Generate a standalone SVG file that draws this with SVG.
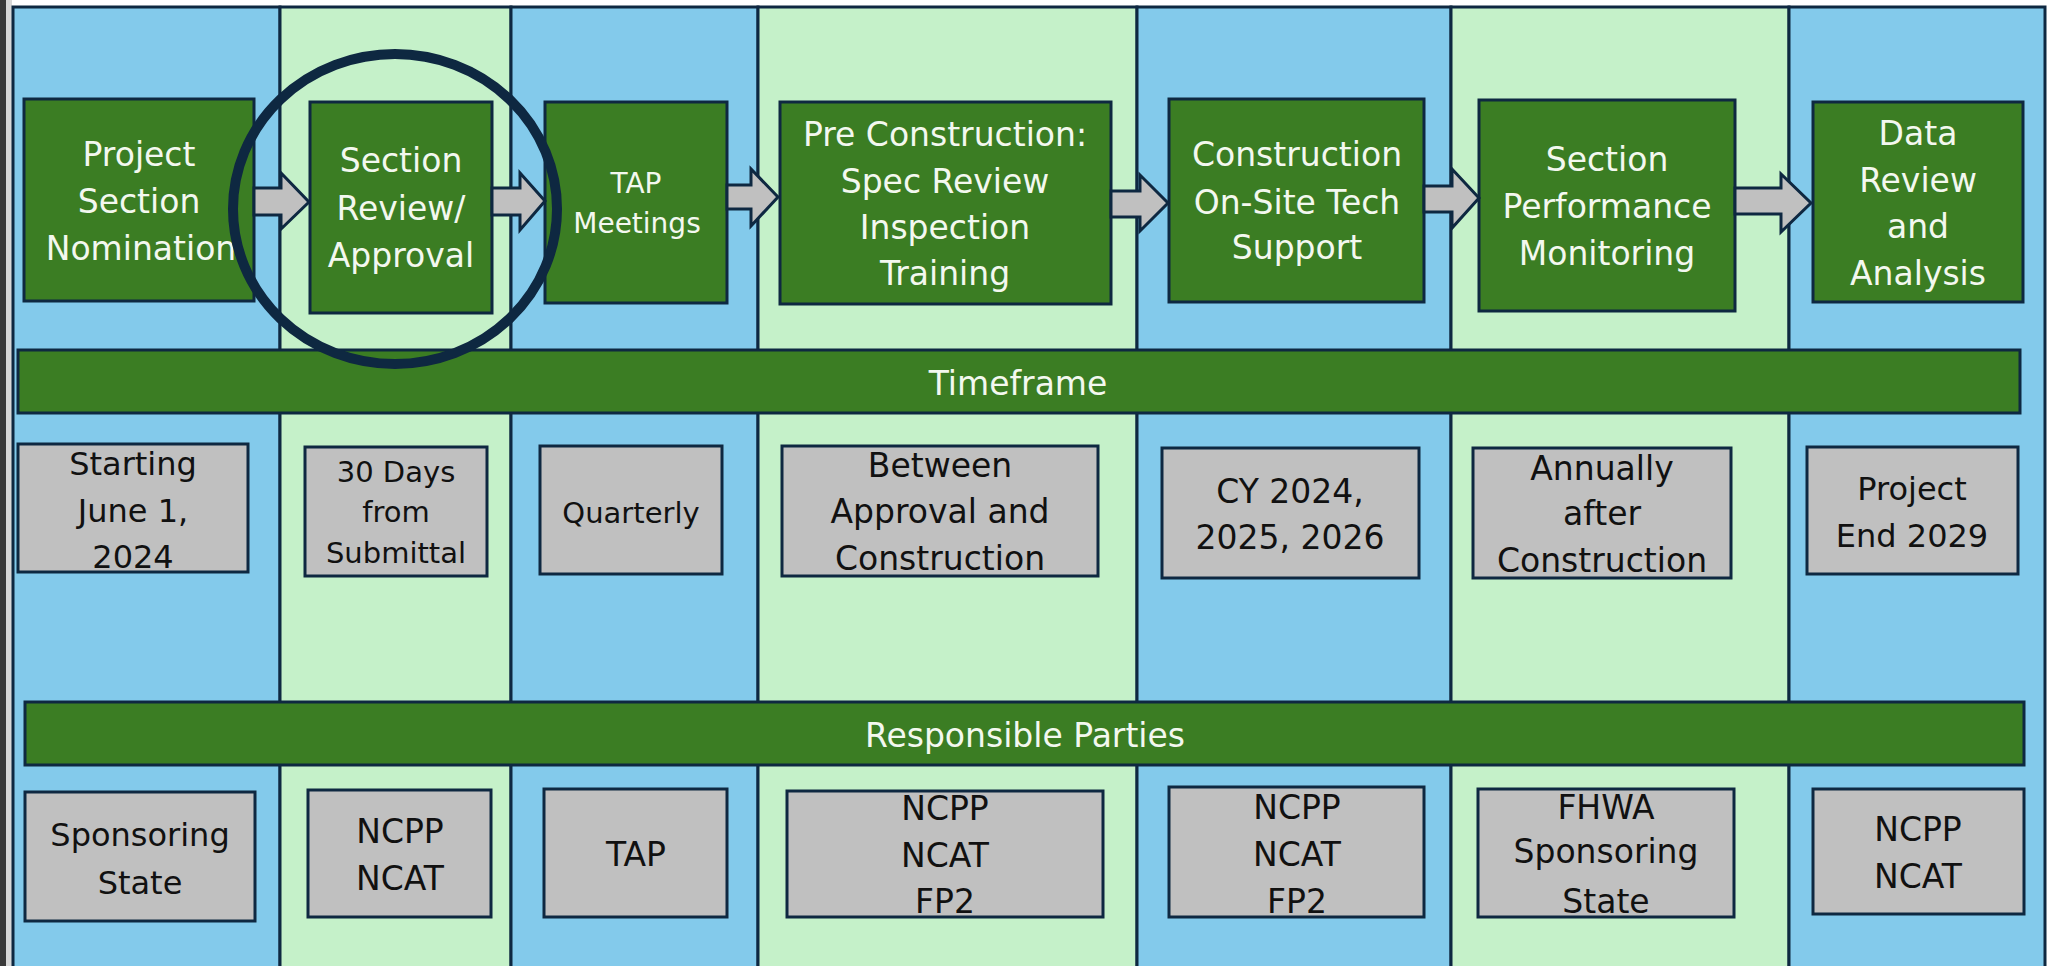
<svg xmlns="http://www.w3.org/2000/svg" width="2050" height="966" viewBox="0 0 2050 966">
<style>
.colB{fill:#83CAEB;stroke:#0E2841;stroke-width:3}
.colG{fill:#C5F1C9;stroke:#0E2841;stroke-width:3}
.gbox{fill:#3B7D23;stroke:#0E2841;stroke-width:3}
.gray{fill:#C0C0C0;stroke:#0E2841;stroke-width:3}
.bar{fill:#3B7D23;stroke:#0E2841;stroke-width:3}
.arrow{fill:#C0C0C0;stroke:#0E2841;stroke-width:3;stroke-linejoin:miter}
.wt{font-family:"DejaVu Sans","Liberation Sans",sans-serif;fill:#F3F8EF;text-anchor:middle;font-size:33px}
.bt{font-family:"DejaVu Sans","Liberation Sans",sans-serif;fill:#111111;text-anchor:middle;font-size:32px}
</style>
<rect x="0" y="0" width="2050" height="966" fill="#FFFFFF"/>
<rect x="0" y="0" width="6" height="966" fill="#3A3A3A"/>
<rect x="6" y="0" width="6" height="966" fill="#D8D8D8"/>
<g id="columns">
<rect class="colB" x="13" y="7" width="267" height="962"/>
<rect class="colG" x="280" y="7" width="231" height="962"/>
<rect class="colB" x="511" y="7" width="247" height="962"/>
<rect class="colG" x="758" y="7" width="379" height="962"/>
<rect class="colB" x="1137" y="7" width="314" height="962"/>
<rect class="colG" x="1451" y="7" width="338" height="962"/>
<rect class="colB" x="1789" y="7" width="256" height="962"/>
</g>
<g id="timeframe-bar">
<rect class="bar" x="18" y="350" width="2002" height="63"/>
<text class="wt" x="1018" y="395">Timeframe</text>
</g>
<g id="responsible-bar">
<rect class="bar" x="25" y="702" width="1999" height="63"/>
<text class="wt" x="1025" y="747">Responsible Parties</text>
</g>
<g id="step1">
<rect class="gbox" x="24" y="99" width="230" height="202"/>
<text class="wt" x="139"><tspan x="139" y="166">Project</tspan><tspan x="139" y="213">Section</tspan><tspan x="141" y="260">Nomination</tspan></text>
</g>
<g id="step2">
<rect class="gbox" x="310" y="102" width="182" height="211"/>
<text class="wt" x="401"><tspan x="401" y="172">Section</tspan><tspan x="401" y="220">Review/</tspan><tspan x="401" y="267">Approval</tspan></text>
</g>
<g id="step3">
<rect class="gbox" x="545" y="102" width="182" height="201"/>
<text class="wt" style="font-size:28px" x="636"><tspan x="636" y="193">TAP</tspan><tspan x="637" y="233">Meetings</tspan></text>
</g>
<g id="step4">
<rect class="gbox" x="780" y="102" width="331" height="202"/>
<text class="wt" x="945"><tspan x="945" y="146">Pre Construction:</tspan><tspan x="945" y="193">Spec Review</tspan><tspan x="945" y="239">Inspection</tspan><tspan x="945" y="285">Training</tspan></text>
</g>
<g id="step5">
<rect class="gbox" x="1169" y="99" width="255" height="203"/>
<text class="wt" x="1297"><tspan x="1297" y="166">Construction</tspan><tspan x="1297" y="214">On-Site Tech</tspan><tspan x="1297" y="259">Support</tspan></text>
</g>
<g id="step6">
<rect class="gbox" x="1479" y="100" width="256" height="211"/>
<text class="wt" x="1607"><tspan x="1607" y="171">Section</tspan><tspan x="1607" y="218">Performance</tspan><tspan x="1607" y="265">Monitoring</tspan></text>
</g>
<g id="step7">
<rect class="gbox" x="1813" y="102" width="210" height="200"/>
<text class="wt" x="1918"><tspan x="1918" y="145">Data</tspan><tspan x="1918" y="192">Review</tspan><tspan x="1918" y="238">and</tspan><tspan x="1918" y="285">Analysis</tspan></text>
</g>
<g id="time1">
<rect class="gray" x="18" y="444" width="230" height="128"/>
<text class="bt" x="133"><tspan x="133" y="475">Starting</tspan><tspan x="133" y="522">June 1,</tspan><tspan x="133" y="568">2024</tspan></text>
</g>
<g id="time2">
<rect class="gray" x="305" y="447" width="182" height="129"/>
<text class="bt" style="font-size:29px" x="396"><tspan x="396" y="482">30 Days</tspan><tspan x="396" y="522">from</tspan><tspan x="396" y="563">Submittal</tspan></text>
</g>
<g id="time3">
<rect class="gray" x="540" y="446" width="182" height="128"/>
<text class="bt" style="font-size:29px" x="631" y="523">Quarterly</text>
</g>
<g id="time4">
<rect class="gray" x="782" y="446" width="316" height="130"/>
<text class="bt" style="font-size:33px" x="940"><tspan x="940" y="477">Between</tspan><tspan x="940" y="523">Approval and</tspan><tspan x="940" y="570">Construction</tspan></text>
</g>
<g id="time5">
<rect class="gray" x="1162" y="448" width="257" height="130"/>
<text class="bt" style="font-size:33px" x="1290"><tspan x="1290" y="503">CY 2024,</tspan><tspan x="1290" y="549">2025, 2026</tspan></text>
</g>
<g id="time6">
<rect class="gray" x="1473" y="448" width="258" height="130"/>
<text class="bt" style="font-size:33px" x="1602"><tspan x="1602" y="480">Annually</tspan><tspan x="1602" y="525">after</tspan><tspan x="1602" y="572">Construction</tspan></text>
</g>
<g id="time7">
<rect class="gray" x="1807" y="447" width="211" height="127"/>
<text class="bt" x="1912"><tspan x="1912" y="500">Project</tspan><tspan x="1912" y="547">End 2029</tspan></text>
</g>
<g id="party1">
<rect class="gray" x="25" y="792" width="230" height="129"/>
<text class="bt" x="140"><tspan x="140" y="846">Sponsoring</tspan><tspan x="140" y="894">State</tspan></text>
</g>
<g id="party2">
<rect class="gray" x="308" y="790" width="183" height="127"/>
<text class="bt" style="font-size:33px" x="400"><tspan x="400" y="843">NCPP</tspan><tspan x="400" y="890">NCAT</tspan></text>
</g>
<g id="party3">
<rect class="gray" x="544" y="789" width="183" height="128"/>
<text class="bt" style="font-size:33px" x="636" y="866">TAP</text>
</g>
<g id="party4">
<rect class="gray" x="787" y="791" width="316" height="126"/>
<text class="bt" style="font-size:33px" x="945"><tspan x="945" y="820">NCPP</tspan><tspan x="945" y="867">NCAT</tspan><tspan x="945" y="913">FP2</tspan></text>
</g>
<g id="party5">
<rect class="gray" x="1169" y="787" width="255" height="130"/>
<text class="bt" style="font-size:33px" x="1297"><tspan x="1297" y="819">NCPP</tspan><tspan x="1297" y="866">NCAT</tspan><tspan x="1297" y="913">FP2</tspan></text>
</g>
<g id="party6">
<rect class="gray" x="1478" y="789" width="256" height="128"/>
<text class="bt" style="font-size:33px" x="1606"><tspan x="1606" y="819">FHWA</tspan><tspan x="1606" y="863">Sponsoring</tspan><tspan x="1606" y="913">State</tspan></text>
</g>
<g id="party7">
<rect class="gray" x="1813" y="789" width="211" height="125"/>
<text class="bt" style="font-size:33px" x="1918"><tspan x="1918" y="841">NCPP</tspan><tspan x="1918" y="888">NCAT</tspan></text>
</g>
<g id="connectors">
<polygon class="arrow" points="254,188 281,188 281,173 309,202 281,229 281,215 254,215"/>
<polygon class="arrow" points="492,188 520,188 520,173 545,201 520,230 520,215 492,215"/>
<polygon class="arrow" points="727,185 751,185 751,169 778,197 751,226 751,209 727,209"/>
<polygon class="arrow" points="1111,191 1140,191 1140,175 1168,203 1140,231 1140,217 1111,217"/>
<polygon class="arrow" points="1424,186 1452,186 1452,169 1479,198 1452,228 1452,212 1424,212"/>
<polygon class="arrow" points="1735,188 1781,188 1781,174 1811,203 1781,232 1781,214 1735,214"/>
</g>
<g id="highlight">
<ellipse cx="395" cy="209" rx="162" ry="155" fill="none" stroke="#0E2841" stroke-width="10"/>
</g>
</svg>
